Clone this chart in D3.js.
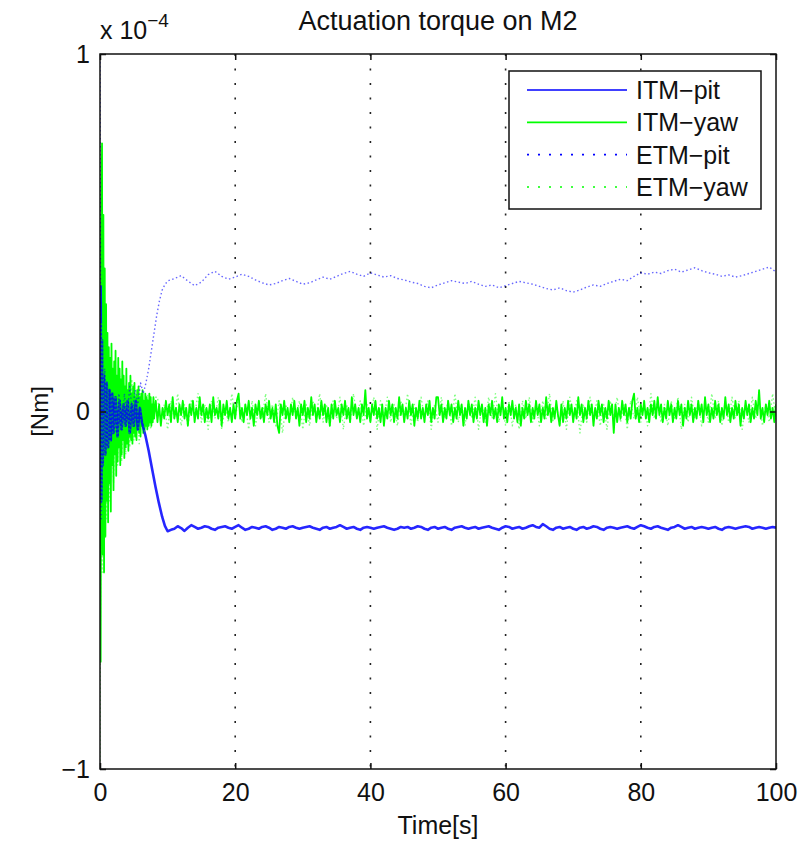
<!DOCTYPE html>
<html>
<head>
<meta charset="utf-8">
<script src="https://cdn.jsdelivr.net/npm/d3@7"></script>
<style>
  body { margin: 0; background: #fff; }
  text { font-family: "Liberation Sans", Arial, sans-serif; fill: #111; }
</style>
</head>
<body>
<div id="chart"></div>
<script>
// values are in units of 1e-4 Nm unless said otherwise

const seriesNames = ["ITM\u2212pit", "ITM\u2212yaw", "ETM\u2212pit", "ETM\u2212yaw"]
const xTicks = [0, 20, 40, 60, 80, 100]
const yTicks = [-1, 0, 1]

// ITM-pit: [t, value] up to 10 s, then one value every 0.5 s
const itmPitEarly = [[0,0],[0.1,0.35],[0.2,-0.25],[0.3,0.2],[0.4,-0.15],[0.6,0.1],[0.8,-0.12],[1,0.08],[1.2,-0.1],[1.4,0.06],[1.6,-0.08],[1.8,0.05],[2,-0.06],[2.3,0.04],[2.6,-0.07],[2.9,0.03],[3.2,-0.05],[3.5,0.02],[3.8,-0.04],[4.1,0.03],[4.4,-0.06],[4.7,0.02],[5,-0.04],[5.3,0.03],[5.6,-0.05],[5.9,0.01],[6.2,-0.03],[6.7,-0.066],[7.2,-0.11],[7.7,-0.16],[8.2,-0.21],[8.7,-0.255],[9.2,-0.295],[9.6,-0.32],[10,-0.335]]
const itmPitTail = [
  -0.331,-0.328,-0.321,-0.326,-0.334,-0.325,-0.318,-0.323,-0.328,-0.325,
  -0.321,-0.323,-0.328,-0.331,-0.325,-0.323,-0.321,-0.325,-0.328,-0.323,
  -0.318,-0.325,-0.331,-0.328,-0.323,-0.325,-0.328,-0.323,-0.321,-0.325,
  -0.331,-0.328,-0.323,-0.325,-0.328,-0.323,-0.321,-0.325,-0.328,-0.325,
  -0.323,-0.321,-0.325,-0.328,-0.331,-0.325,-0.323,-0.328,-0.325,-0.323,
  -0.318,-0.323,-0.328,-0.325,-0.323,-0.328,-0.331,-0.325,-0.323,-0.325,
  -0.328,-0.325,-0.323,-0.321,-0.325,-0.328,-0.331,-0.328,-0.323,-0.325,
  -0.323,-0.328,-0.325,-0.321,-0.323,-0.328,-0.331,-0.325,-0.323,-0.328,
  -0.325,-0.323,-0.328,-0.331,-0.325,-0.323,-0.321,-0.325,-0.328,-0.325,
  -0.323,-0.328,-0.325,-0.323,-0.321,-0.325,-0.328,-0.331,-0.325,-0.321,
  -0.323,-0.328,-0.325,-0.323,-0.328,-0.325,-0.321,-0.318,-0.323,-0.325,
  -0.315,-0.321,-0.328,-0.331,-0.325,-0.323,-0.328,-0.325,-0.323,-0.328,
  -0.331,-0.325,-0.323,-0.328,-0.325,-0.321,-0.323,-0.328,-0.331,-0.325,
  -0.323,-0.325,-0.328,-0.325,-0.323,-0.321,-0.325,-0.328,-0.323,-0.318,
  -0.321,-0.325,-0.328,-0.323,-0.321,-0.325,-0.328,-0.331,-0.325,-0.323,
  -0.318,-0.323,-0.328,-0.325,-0.323,-0.328,-0.325,-0.323,-0.325,-0.328,
  -0.325,-0.323,-0.328,-0.331,-0.325,-0.323,-0.325,-0.328,-0.325,-0.323,
  -0.321,-0.323,-0.328,-0.325,-0.323,-0.325,-0.328,-0.325,-0.323,-0.325
]

// ITM-yaw: one value every 0.1 s up to 8 s, then tail every 0.25 s in 1e-6 Nm
const itmYawEarly = [0,-0.7,0.5,0.75,-0.4,0.55,-0.45,0.4,-0.35,0.3,
  -0.25,0.22,-0.31,0.18,-0.2,0.15,-0.28,0.19,-0.15,0.12,
  -0.22,0.14,-0.12,0.17,-0.18,0.1,-0.14,0.15,-0.1,0.12,
  -0.15,0.09,-0.12,0.14,-0.08,0.1,-0.13,0.07,-0.1,0.12,
  -0.09,0.06,-0.11,0.08,-0.07,0.1,-0.08,0.05,-0.09,0.07,
  -0.06,0.08,-0.07,0.04,-0.08,0.06,-0.05,0.07,-0.06,0.04,
  -0.07,0.05,-0.04,0.06,-0.06,0.03,-0.05,0.05,-0.04,0.04,
  -0.05,0.03,-0.04,0.05,-0.03,0.04,-0.04,0.02,-0.03,0.04,-0.02]
const itmYawTail = [
  3,-3,2,-4,1,-2,3,-1,2,-3,4,-2,1,-3,2,-1,
  3,-2,1,-4,2,-1,3,-3,1,-2,4,-1,2,-3,1,-2,
  2,-3,4,-1,1,-2,3,-4,2,-1,3,-2,1,-3,2,-2,
  3,5,-2,1,-3,2,-1,3,-2,1,-4,2,-1,3,-2,1,
  -3,2,-1,3,-2,1,-3,2,-4,-6,2,-1,3,-2,1,-3,
  2,-1,3,-2,1,-4,2,-1,3,-3,1,-2,4,-1,2,-3,
  1,-2,3,-1,2,-3,1,-4,2,-2,3,-1,1,-3,2,-1,
  3,-2,1,-3,4,-1,2,-2,1,-3,2,-1,6,-2,1,-3,
  2,-1,3,-2,1,-3,2,-4,1,-2,3,-1,2,-3,1,-2,
  4,-1,2,-3,1,-2,3,-1,2,-4,1,-2,3,-2,1,-3,
  2,-1,3,-3,1,-2,4,4,-1,2,-3,1,-2,3,-1,2,
  -3,1,-2,3,-1,2,-4,1,-2,3,-1,2,-3,1,-2,3,
  -1,2,-3,1,-4,2,-1,3,-2,1,-3,2,-1,4,-2,1,
  -3,2,-1,3,-2,1,-3,2,-4,1,-2,3,-1,2,-3,1,
  -2,3,-1,2,-3,1,-2,4,-1,2,-3,1,-2,3,-1,-4,
  2,-3,1,-2,3,-1,2,-3,1,-2,4,-1,2,-3,1,-2,
  3,-1,2,-4,1,-2,3,-1,2,-3,1,-2,3,-1,2,-6,
  2,-3,1,-2,3,-1,2,-3,1,-2,3,5,-2,1,-3,2,
  -1,3,-2,1,-3,2,-1,3,-2,4,-1,2,-3,1,-2,3,
  -1,2,-3,1,-2,3,-1,2,-4,1,-2,3,-1,2,-3,1,
  -2,3,-1,2,-3,4,-1,2,-3,1,-2,3,-1,2,-3,1,
  -2,4,-1,2,-3,1,-2,3,-1,2,-4,1,-2,3,-1,2,
  -3,1,-2,3,-1,6,-2,1,-3,2,-1,3,-2,1,-3,2
]

// ETM-pit: [t, value] up to 10 s, then one value per second
const etmPitEarly = [[0,1],[0.05,0.6],[0.1,0.2],[0.2,-0.3],[0.3,0.15],[0.5,-0.1],[0.7,0.12],[1,-0.08],[1.3,0.06],[1.6,-0.05],[2,0.04],[2.4,-0.06],[2.8,0.05],[3.2,-0.03],[3.6,0.05],[4,-0.02],[4.4,0.07],[4.8,0],[5.2,0.06],[5.6,0.02],[6,0.08],[6.4,0.05],[6.8,0.08],[7.2,0.12],[7.6,0.17],[8,0.22],[8.4,0.27],[8.8,0.31],[9.2,0.34],[9.6,0.355],[10,0.365]]
const etmPitTail = [
  0.372,0.38,0.365,0.352,0.362,0.383,0.392,0.378,0.37,0.376,
  0.384,0.378,0.368,0.36,0.354,0.358,0.366,0.372,0.364,0.356,
  0.36,0.368,0.376,0.37,0.378,0.386,0.392,0.384,0.378,0.388,
  0.382,0.376,0.38,0.372,0.368,0.362,0.358,0.35,0.346,0.354,
  0.36,0.366,0.362,0.358,0.364,0.356,0.35,0.354,0.346,0.352,
  0.358,0.364,0.36,0.356,0.35,0.344,0.34,0.346,0.338,0.334,
  0.34,0.348,0.354,0.35,0.358,0.364,0.37,0.366,0.378,0.388,
  0.384,0.39,0.386,0.394,0.398,0.39,0.396,0.402,0.394,0.388,
  0.384,0.378,0.382,0.376,0.38,0.386,0.392,0.398,0.404,0.39
]

// ETM-yaw: [t, value] up to 8 s, then tail every 0.5 s in 1e-6 Nm
const etmYawEarly = [[0,-1],[0.05,-0.6],[0.1,-0.3],[0.2,0.25],[0.3,-0.45],[0.45,0.3],[0.6,-0.35],[0.8,0.2],[1,-0.3],[1.2,0.15],[1.4,-0.25],[1.7,0.12],[2,-0.2],[2.3,0.1],[2.6,-0.15],[2.9,0.1],[3.2,-0.14],[3.5,0.08],[3.8,-0.12],[4.1,0.06],[4.4,-0.1],[4.7,0.09],[5,-0.08],[5.4,0.05],[5.8,-0.09],[6.2,0.04],[6.6,-0.06],[7,0.05],[7.5,-0.05],[8,0.04]]
const etmYawTail = [
  4,-3,2,-5,3,-2,5,-4, 2,-4,3,-1,5,-3,2,-5, 3,-2,4,-5,1,-3,5,-2,
  4,-3,2,-5,3,-4,1,-2, 5,-3,2,-4,3,-6,2,-3, 4,-2,3,-5,2,-4,3,-1,
  5,-3,2,-4,3,-2,4,-5, 2,-3,5,-2,3,-4,2,-3, 4,-5,3,-2,4,-3,2,-4,
  3,-2,5,-4,2,-3,4,-2, 3,-5,2,-3,4,-2,3,-4, 5,-3,2,-4,3,-2,4,-5,
  2,-3,4,-2,5,-3,2,-4, 3,-4,2,-5,3,-2,4,-3, 2,-4,3,-2,5,-3,2,-4,
  3,-5,4,-2,3,-6,2,-3, 4,-2,3,-4,2,-5,3,-2, 4,-3,2,-5,3,-2,4,-3,
  2,-4,5,-2,3,-3,2,-4, 3,-2,4,-5,2,-3,4,-2, 3,-4,2,-3,5,-2,3,-4,
  2,-3,4,-2,3,-5,2,-3, 4,-2,3,-4,2,-3,5,-2
]

// build [t, v] tables from the arrays above
const itmPit = itmPitEarly.concat(itmPitTail.map((v, i) => [10.5 + i * 0.5, v]))
const itmYaw = itmYawEarly.map((v, i) => [i * 0.1, v])
  .concat(itmYawTail.map((v, i) => [8.25 + i * 0.25, v / 100]))
const etmPit = etmPitEarly.concat(etmPitTail.map((v, i) => [11 + i, v]))
const etmYaw = etmYawEarly.concat(etmYawTail.map((v, i) => [8.5 + i * 0.5, v / 100]))

const W = 810, H = 843
const plotLeft = 100, plotRight = 776, plotTop = 54, plotBottom = 769

const svg = d3.select("#chart").append("svg")
  .attr("width", W)
  .attr("height", H)

const x = d3.scaleLinear().domain([0, 100]).range([plotLeft, plotRight])
const y = d3.scaleLinear().domain([-1, 1]).range([plotBottom, plotTop])

svg.append("clipPath").attr("id", "clip")
  .append("rect")
  .attr("x", plotLeft).attr("y", plotTop - 1)
  .attr("width", plotRight - plotLeft).attr("height", plotBottom - plotTop + 2)

// dotted vertical grid
svg.selectAll(".grid")
  .data(xTicks.slice(1, -1))
  .join("line")
  .attr("class", "grid")
  .attr("x1", d => x(d)).attr("x2", d => x(d))
  .attr("y1", plotTop).attr("y2", plotBottom)
  .attr("stroke", "#222")
  .attr("stroke-width", 1.6)
  .attr("stroke-dasharray", "2,12.5")

const line = d3.line().x(d => x(d[0])).y(d => y(d[1]))
const plot = svg.append("g").attr("clip-path", "url(#clip)")

const series = [
  { data: itmYaw, color: "#00ff00", dash: null, width: 1.8, op: 1 },
  { data: itmPit, color: "#0000ff", dash: null, width: 2.6, op: 0.85 },
  { data: etmPit, color: "#0000ff", dash: "1.5,2.5", width: 1.4, op: 0.6 },
  { data: etmYaw, color: "#00ff00", dash: "1.5,2.5", width: 1.4, op: 0.5 }
]

series.forEach(s => {
  plot.append("path")
    .datum(s.data)
    .attr("d", line)
    .attr("fill", "none")
    .attr("stroke", s.color)
    .attr("stroke-width", s.width)
    .attr("stroke-opacity", s.op)
    .attr("stroke-linejoin", "round")
    .attr("stroke-dasharray", s.dash)
})

// axes box with inward ticks
svg.append("rect")
  .attr("x", plotLeft).attr("y", plotTop)
  .attr("width", plotRight - plotLeft).attr("height", plotBottom - plotTop)
  .attr("fill", "none")
  .attr("stroke", "#111")
  .attr("stroke-width", 1.5)

const xAxis = svg.append("g").attr("transform", `translate(0,${plotBottom})`)
  .call(d3.axisBottom(x).tickValues(xTicks).tickSize(-6).tickPadding(14))
const xAxisTop = svg.append("g").attr("transform", `translate(0,${plotTop})`)
  .call(d3.axisTop(x).tickValues(xTicks).tickSize(-6).tickFormat(""))
const yAxis = svg.append("g").attr("transform", `translate(${plotLeft},0)`)
  .call(d3.axisLeft(y).tickValues(yTicks).tickSize(-6).tickPadding(10)
    .tickFormat(d => d < 0 ? "\u2212" + Math.abs(d) : d))
const yAxisRight = svg.append("g").attr("transform", `translate(${plotRight},0)`)
  .call(d3.axisRight(y).tickValues(yTicks).tickSize(-6).tickFormat(""))

;[xAxis, xAxisTop, yAxis, yAxisRight].forEach(a => {
  a.select(".domain").remove()
  a.selectAll(".tick line").attr("stroke", "#111").attr("stroke-width", 1.5)
  a.selectAll("text")
    .attr("font-size", 25)
    .attr("font-family", "Liberation Sans, Arial, sans-serif")
    .attr("fill", "#111")
})

// exponent label
const expo = svg.append("text").attr("x", plotLeft).attr("y", 39).attr("font-size", 25)
expo.append("tspan").text("x 10")
expo.append("tspan").attr("dy", -12).attr("font-size", 19).text("\u22124")

svg.append("text")
  .attr("x", (plotLeft + plotRight) / 2).attr("y", 30)
  .attr("text-anchor", "middle")
  .attr("font-size", 27)
  .text("Actuation torque on M2")

svg.append("text")
  .attr("x", (plotLeft + plotRight) / 2).attr("y", 834)
  .attr("text-anchor", "middle")
  .attr("font-size", 25)
  .text("Time[s]")

svg.append("text")
  .attr("transform", `translate(48,${(plotTop + plotBottom) / 2}) rotate(-90)`)
  .attr("text-anchor", "middle")
  .attr("font-size", 24)
  .text("[Nm]")

// legend
const legend = svg.append("g")
legend.append("rect")
  .attr("x", 509).attr("y", 71)
  .attr("width", 252).attr("height", 138)
  .attr("fill", "#fff")
  .attr("stroke", "#111")
  .attr("stroke-width", 1.5)

const rowY = d3.scalePoint().domain(seriesNames).range([90, 187])
const legendStyle = [
  { color: "#0000ff", dash: null },
  { color: "#00ff00", dash: null },
  { color: "#0000ff", dash: "2,9" },
  { color: "#00ff00", dash: "2,9" }
]
seriesNames.forEach((name, i) => {
  legend.append("line")
    .attr("x1", 527).attr("x2", 627)
    .attr("y1", rowY(name)).attr("y2", rowY(name))
    .attr("stroke", legendStyle[i].color)
    .attr("stroke-width", 1.6)
    .attr("stroke-dasharray", legendStyle[i].dash)
  legend.append("text")
    .attr("x", 636).attr("y", rowY(name) + 9)
    .attr("font-size", 25)
    .text(name)
})
</script>
</body>
</html>
